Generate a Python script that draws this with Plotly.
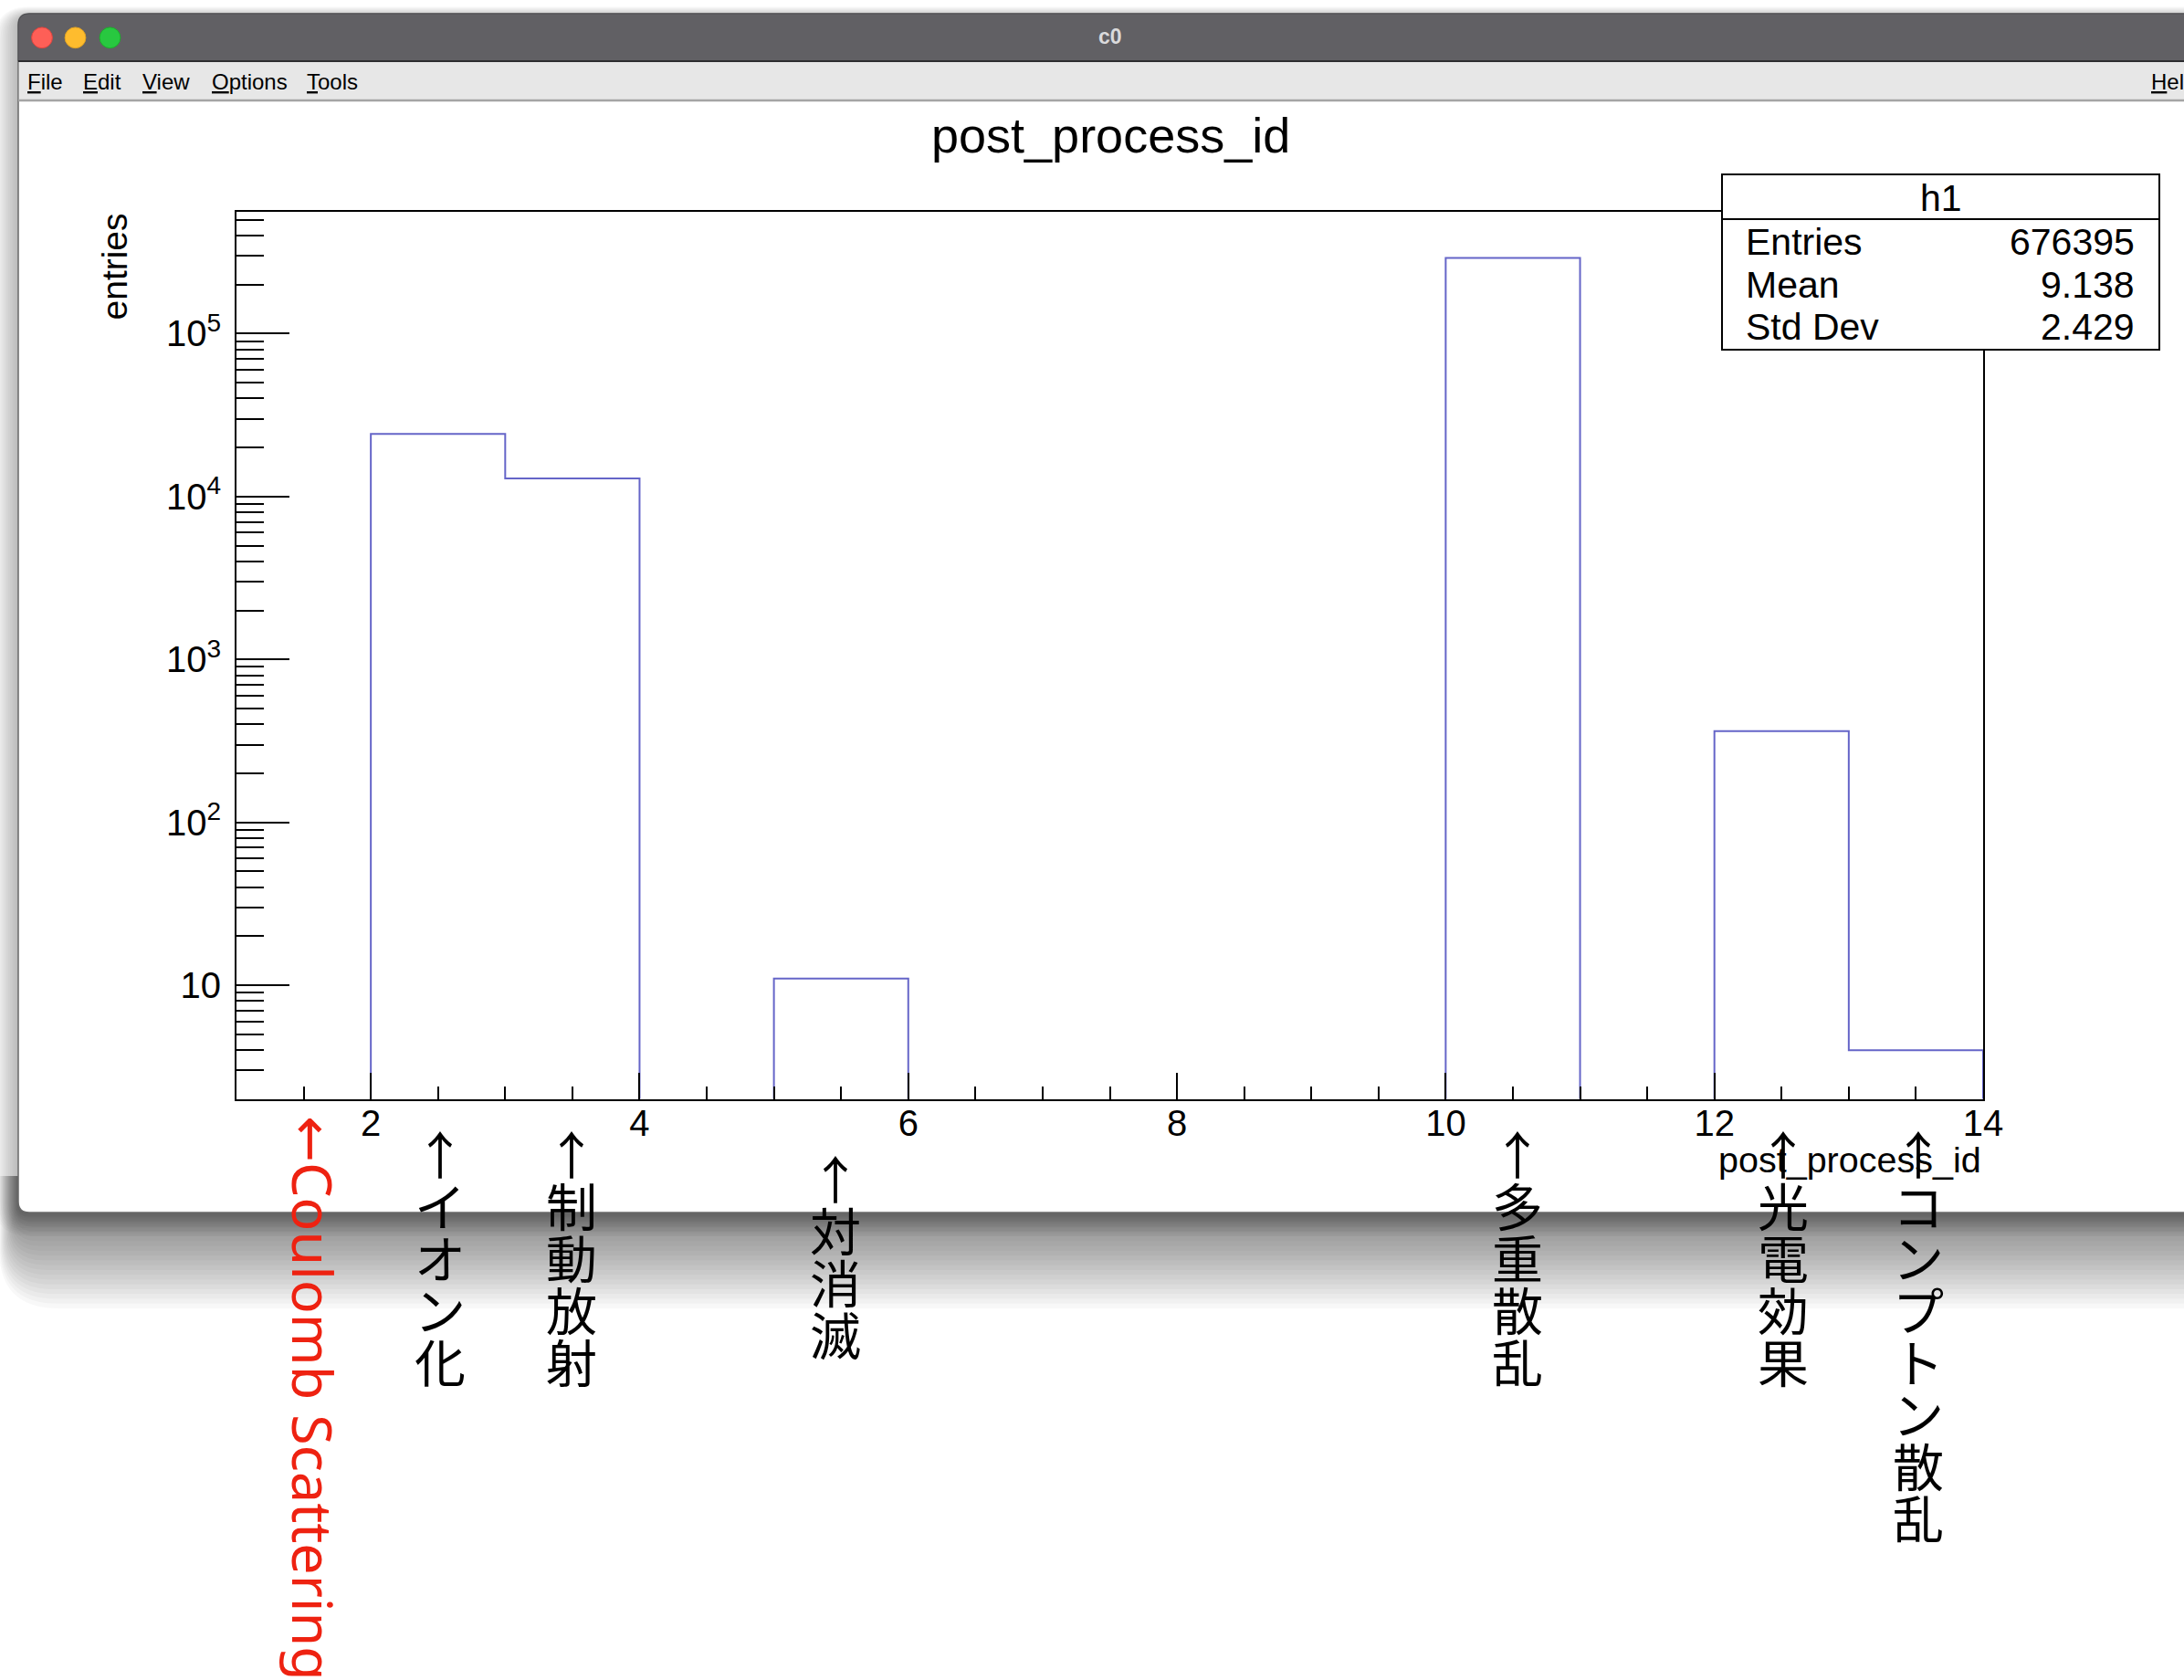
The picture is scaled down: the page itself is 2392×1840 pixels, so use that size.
import plotly.graph_objects as go

W, H = 2392, 1840

# ---- histogram h1: post_process_id, unit bins from 1 to 14 ----
bin_edges = list(range(1, 15))
bin_counts = [0, 24240, 12930, 0, 11, 0, 0, 0, 0, 292000, 0, 363, 4]

stat_names = ["Entries", "Mean", "Std Dev"]
stat_values = ["676395", "9.138", "2.429"]
hist_name = "h1"
hist_title = "post_process_id"
x_title = "post_process_id"
y_title = "entries"

y_tick_vals = [10, 100, 1000, 10000, 100000]
y_tick_text = ["10", "10<sup>2</sup>", "10<sup>3</sup>", "10<sup>4</sup>", "10<sup>5</sup>"]

# process ids and their names, written below the axis
process_ids = [2, 3, 5, 10, 12, 13]
process_names = ["イオン化", "制動放射", "対消滅", "多重散乱", "光電効果", "コンプトン散乱"]
coulomb_id = 1
coulomb_name = "Coulomb Scattering"

window_title = "c0"
menu_items = ["File", "Edit", "View", "Options", "Tools", "Help"]

# ---- geometry (pixels) ----
FX0, FX1, FY0, FY1 = 259, 2172, 232, 1203.5
WIN_X0, WIN_Y0, WIN_X1, WIN_Y1 = 20, 15, 2440, 1328
TITLEBAR_Y1 = 67
MENU_Y1 = 110
menu_x = [28, 89, 154, 229.5, 334, 2354]
label_top = [1233, 1233, 1260, 1233, 1233, 1233]
label_xshift = [2, -1, -6, 5, 2, 3]
label_step = 57

HIST_COLOR = "#6565c8"
LABEL_FONT = "Noto Sans CJK JP"
SANS = "Liberation Sans, Arial, sans-serif"


def fx(x):
    return x / W


def fy(y):
    return 1 - y / H


def rounded_path(x0, y0, x1, y1, rt=0.0, rb=0.0):
    def P(x, y):
        return f"{fx(x):.6f},{fy(y):.6f}"
    return (
        f"M{P(x0 + rt, y0)} L{P(x1 - rt, y0)} Q{P(x1, y0)} {P(x1, y0 + rt)} "
        f"L{P(x1, y1 - rb)} Q{P(x1, y1)} {P(x1 - rb, y1)} "
        f"L{P(x0 + rb, y1)} Q{P(x0, y1)} {P(x0, y1 - rb)} "
        f"L{P(x0, y0 + rt)} Q{P(x0, y0)} {P(x0 + rt, y0)} Z"
    )


shapes = []

# window drop shadow: stacked translucent layers
n_a = 12
for i in range(1, n_a + 1):
    e = 26.0 * i / n_a
    shapes.append(dict(type="path", xref="paper", yref="paper", layer="below",
                       path=rounded_path(WIN_X0 - e, WIN_Y0 - 0.45 * e + 4, WIN_X1 + e, WIN_Y1 + e,
                                         12 + e, 12 + e),
                       fillcolor="black", opacity=0.024, line=dict(width=0)))
n_b = 20
for i in range(1, n_b + 1):
    d = 105.0 * i / n_b
    shapes.append(dict(type="path", xref="paper", yref="paper", layer="below",
                       path=rounded_path(WIN_X0 - 0.2 * d, WIN_Y1 - 40, WIN_X1 + d, WIN_Y1 + d,
                                         0, 12 + 0.5 * d),
                       fillcolor="black", opacity=0.028, line=dict(width=0)))

# window body
shapes.append(dict(type="path", xref="paper", yref="paper", layer="below",
                   path=rounded_path(WIN_X0, WIN_Y0, WIN_X1, WIN_Y1, 12, 12),
                   fillcolor="white", line=dict(color="rgb(105,105,105)", width=1.5)))
# title bar
shapes.append(dict(type="path", xref="paper", yref="paper", layer="below",
                   path=rounded_path(WIN_X0, WIN_Y0, WIN_X1, TITLEBAR_Y1, 12, 0),
                   fillcolor="rgb(97,96,100)", line=dict(color="rgb(80,80,84)", width=1)))
# menu bar
shapes.append(dict(type="rect", xref="paper", yref="paper", layer="below",
                   x0=fx(WIN_X0 + 0.8), x1=fx(WIN_X1), y0=fy(TITLEBAR_Y1), y1=fy(MENU_Y1),
                   fillcolor="rgb(231,231,231)", line=dict(width=0)))
shapes.append(dict(type="line", xref="paper", yref="paper", layer="below",
                   x0=fx(WIN_X0), x1=fx(WIN_X1), y0=fy(TITLEBAR_Y1), y1=fy(TITLEBAR_Y1),
                   line=dict(color="rgb(45,45,48)", width=2)))
shapes.append(dict(type="line", xref="paper", yref="paper", layer="below",
                   x0=fx(WIN_X0), x1=fx(WIN_X1), y0=fy(MENU_Y1), y1=fy(MENU_Y1),
                   line=dict(color="rgb(165,165,165)", width=2.5)))

# traffic-light buttons
for cx, fill, edge in [(46, "rgb(254,95,87)", "rgb(224,68,62)"),
                       (82.5, "rgb(254,188,46)", "rgb(222,161,35)"),
                       (120.5, "rgb(40,200,64)", "rgb(29,173,43)")]:
    r = 11.4
    shapes.append(dict(type="circle", xref="paper", yref="paper", layer="below",
                       x0=fx(cx - r), x1=fx(cx + r), y0=fy(41.3 + r), y1=fy(41.3 - r),
                       fillcolor=fill, line=dict(color=edge, width=1)))

# statistics box (drawn over the frame)
SB_X0, SB_X1, SB_Y0, SB_HEAD, SB_Y1 = 1886, 2365, 191, 240, 383
shapes.append(dict(type="rect", xref="paper", yref="paper", layer="above",
                   x0=fx(SB_X0), x1=fx(SB_X1), y0=fy(SB_Y1), y1=fy(SB_Y0),
                   fillcolor="white", line=dict(color="black", width=2)))
shapes.append(dict(type="line", xref="paper", yref="paper", layer="above",
                   x0=fx(SB_X0), x1=fx(SB_X1), y0=fy(SB_HEAD), y1=fy(SB_HEAD),
                   line=dict(color="black", width=2)))

annotations = []


def text(x, y, s, size, color="black", family=SANS, xanchor="center", yanchor="middle",
         angle=0, xref="paper", xshift=0):
    annotations.append(dict(x=x, y=y, xref=xref, yref="paper", text=s, showarrow=False,
                            xanchor=xanchor, yanchor=yanchor, textangle=angle, xshift=xshift,
                            font=dict(size=size, color=color, family=family)))


# window title and menu
text(fx(1216), fy(40), f"<b>{window_title}</b>", 23, color="rgb(218,218,220)")
for mx, item in zip(menu_x, menu_items):
    text(fx(mx), fy(89), f"<u>{item[0]}</u>{item[1:]}", 24, xanchor="left")

# pad title
text(fx(1216), fy(148), hist_title, 54)

# axis titles
text(fx(FX1), fy(1270), x_title, 39.5, xanchor="right")
text(fx(125), fy(FY0), y_title, 39, yanchor="top", angle=-90)

# statistics text
text(fx((SB_X0 + SB_X1) / 2), fy(217), hist_name, 41)
for k, (name, val) in enumerate(zip(stat_names, stat_values)):
    yy = 265 + k * 46.5
    text(fx(1910), fy(yy), name, 41, xanchor="left")
    text(fx(2340), fy(yy), val, 41, xanchor="right")

# process labels, written vertically one glyph per row
for pid, name, top, dx in zip(process_ids, process_names, label_top, label_xshift):
    for j, ch in enumerate(["↑"] + list(name)):
        text(pid + 0.5, fy(top + label_step * (j + 0.5)), ch, 56,
             family=LABEL_FONT, xref="x", xshift=dx)

# Coulomb scattering note (rotated)
text(coulomb_id + 0.5, fy(1220), "←" + coulomb_name, 61, color="#ee2211",
     family="Noto Sans, DejaVu Sans, sans-serif", yanchor="top", angle=90, xref="x",
     xshift=11)

# ---- histogram outline ----
floor = 0.1  # empty bins drop below the visible range
step_y = [c if c > 0 else floor for c in bin_counts] + [floor]

fig = go.Figure()
fig.add_trace(go.Scatter(
    x=bin_edges, y=step_y, mode="lines",
    line=dict(shape="hv", color=HIST_COLOR, width=2),
    hoverinfo="skip", showlegend=False,
))

minor_y = [m * 10 ** k for k in range(0, 6) for m in range(2, 10)]

fig.update_layout(
    width=W, height=H, autosize=False,
    margin=dict(l=0, r=0, t=0, b=0, pad=0, autoexpand=False),
    paper_bgcolor="white", plot_bgcolor="rgba(0,0,0,0)",
    showlegend=False,
    shapes=shapes, annotations=annotations,
    xaxis=dict(
        domain=[fx(FX0), fx(FX1)], range=[1, 14], automargin=False,
        tickmode="linear", tick0=0, dtick=2,
        ticks="inside", ticklen=29, tickwidth=2, tickcolor="black",
        minor=dict(dtick=0.5, tick0=0, ticks="inside", ticklen=14,
                   tickwidth=2, tickcolor="black", showgrid=False),
        showline=True, linecolor="black", linewidth=2, mirror=True,
        showgrid=False, zeroline=False,
        tickfont=dict(family=SANS, size=40, color="black"),
        ticklabelstandoff=-10,
    ),
    yaxis=dict(
        domain=[fy(FY1), fy(FY0)], type="log", range=[0.303, 5.748], automargin=False,
        tickmode="array", tickvals=y_tick_vals, ticktext=y_tick_text,
        ticks="inside", ticklen=58, tickwidth=2, tickcolor="black",
        minor=dict(tickmode="array", tickvals=minor_y, ticks="inside", ticklen=30,
                   tickwidth=2, tickcolor="black", showgrid=False),
        showline=True, linecolor="black", linewidth=2, mirror=True,
        showgrid=False, zeroline=False,
        tickfont=dict(family=SANS, size=40, color="black"),
        ticklabelstandoff=7,
    ),
)

fig.write_html("out.html", config={"displayModeBar": False, "responsive": False})
